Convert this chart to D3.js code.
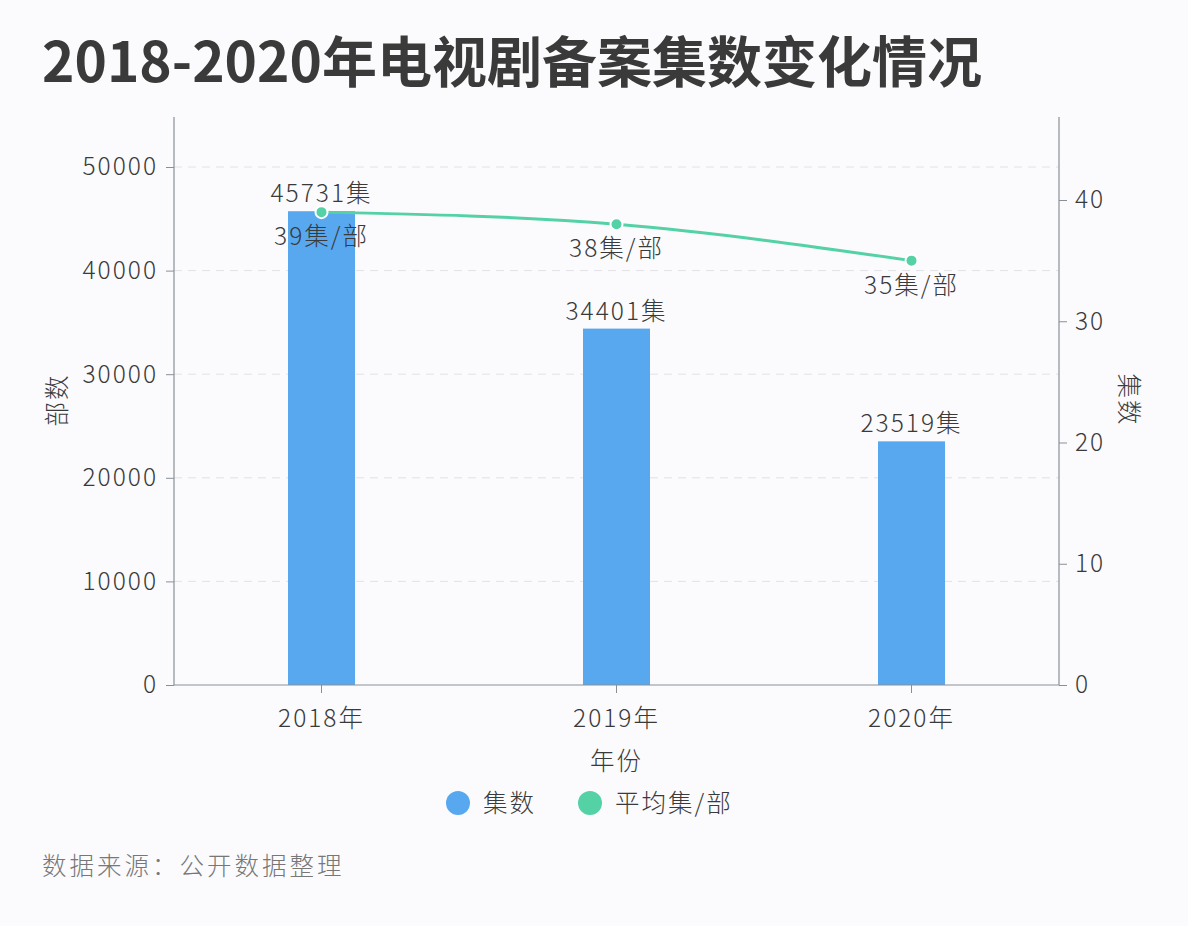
<!DOCTYPE html>
<html><head><meta charset="utf-8">
<script src="https://cdn.jsdelivr.net/npm/d3@7"></script>
<style>
body{margin:0;background:#fbfbfd;}
svg{display:block;font-family:"Noto Sans CJK SC","Noto Sans",sans-serif;}
</style></head>
<body><svg id="c" width="1188" height="926"></svg>
<script>
const years = ["2018年","2019年","2020年"];
const episodes = [45731, 34401, 23519];
const avgEpisodes = [39, 38, 35];
const leftTicks = [0,10000,20000,30000,40000,50000];
const rightTicks = [0,10,20,30,40];
const seriesNames = ["集数","平均集/部"];
const colors = ["#58a8ef","#55d1a6"];

const FS = 24.5, LS = "2px", TXT = "#3a3a3a";
const svg = d3.select("#c");
svg.append("rect").attr("width",1188).attr("height",926).attr("fill","#fbfbfd");

const L=174, R=1059, T=117, B=685;
const x = d3.scaleBand().domain(years).range([L,R]).padding(0);
const yL = d3.scaleLinear().domain([0,50000]).range([B,167]);
const yR = d3.scaleLinear().domain([0,40]).range([B,200]);

svg.append("text").attr("x",42).attr("y",82).attr("font-size",55).attr("font-weight",700)
  .attr("fill","#3a3a3a").text("2018-2020年电视剧备案集数变化情况");

// grid
svg.append("g").selectAll("line").data(leftTicks.slice(1)).join("line")
  .attr("x1",L).attr("x2",R).attr("y1",d=>yL(d)).attr("y2",d=>yL(d))
  .attr("stroke","#e2e2e6").attr("stroke-width",1).attr("stroke-dasharray","8,6");

// bars
const bw = 67;
svg.append("g").selectAll("rect").data(episodes).join("rect")
  .attr("x",(d,i)=>x(years[i])+x.bandwidth()/2-bw/2).attr("width",bw)
  .attr("y",d=>yL(d)).attr("height",d=>B-yL(d)).attr("fill",colors[0]);

// axes
const axL = d3.axisLeft(yL).tickValues(leftTicks).tickFormat(d3.format("d")).tickSize(8).tickPadding(8);
const gL = svg.append("g").attr("transform",`translate(${L},0)`).call(axL);
const axR = d3.axisRight(yR).tickValues(rightTicks).tickFormat(d3.format("d")).tickSize(8).tickPadding(8);
const gR = svg.append("g").attr("transform",`translate(${R},0)`).call(axR);
const axB = d3.axisBottom(x).tickSize(8).tickPadding(12);
const gB = svg.append("g").attr("transform",`translate(0,${B})`).call(axB);
[gL,gR,gB].forEach(g=>{
  g.select(".domain").remove();
  g.selectAll(".tick line").attr("stroke","#8a8f96");
  g.selectAll(".tick text").attr("fill",TXT).attr("font-size",FS).attr("letter-spacing",LS)
   .attr("font-weight",300)
   .attr("font-family","'Noto Sans CJK SC','Noto Sans',sans-serif");
});
gB.selectAll(".tick text").attr("dy","0.9em");
svg.append("line").attr("x1",L).attr("x2",L).attr("y1",T).attr("y2",B).attr("stroke","#8a8f96").attr("stroke-width",1.2);
svg.append("line").attr("x1",R).attr("x2",R).attr("y1",T).attr("y2",B).attr("stroke","#8a8f96").attr("stroke-width",1.2);
svg.append("line").attr("x1",L).attr("x2",R).attr("y1",B).attr("y2",B).attr("stroke","#8a8f96").attr("stroke-width",1.2);

function txt(sel){ return sel.attr("font-size",FS).attr("fill",TXT).attr("letter-spacing",LS).attr("font-weight",300); }
// axis titles
txt(svg.append("text").attr("transform",`translate(66,400) rotate(-90)`).attr("text-anchor","middle")).text("部数");
txt(svg.append("text").attr("transform",`translate(1120,400) rotate(90)`).attr("text-anchor","middle")).text("集数");
txt(svg.append("text").attr("x",(L+R)/2).attr("y",770).attr("text-anchor","middle")).text("年份");

// line
const cx = i => x(years[i])+x.bandwidth()/2;
const line = d3.line().x((d,i)=>cx(i)).y(d=>yR(d)).curve(d3.curveMonotoneX);
svg.append("path").datum(avgEpisodes).attr("d",line).attr("fill","none")
  .attr("stroke",colors[1]).attr("stroke-width",3);
svg.append("g").selectAll("circle").data(avgEpisodes).join("circle")
  .attr("cx",(d,i)=>cx(i)).attr("cy",d=>yR(d)).attr("r",6)
  .attr("fill",colors[1]).attr("stroke","#fff").attr("stroke-width",2);

// labels
txt(svg.append("g").selectAll("text").data(episodes).join("text")
  .attr("x",(d,i)=>cx(i)).attr("y",d=>yL(d)-9).attr("text-anchor","middle")).text(d=>d+"集");
txt(svg.append("g").selectAll("text").data(avgEpisodes).join("text")
  .attr("x",(d,i)=>cx(i)).attr("y",d=>yR(d)+33).attr("text-anchor","middle")).text(d=>d+"集/部");

// legend
const lg = svg.append("g");
const legX = [458, 590];
seriesNames.forEach((n,i)=>{
  lg.append("circle").attr("cx",legX[i]).attr("cy",803).attr("r",12).attr("fill",colors[i]);
  txt(lg.append("text").attr("x",legX[i]+25).attr("y",812)).text(n);
});

txt(svg.append("text").attr("x",42).attr("y",875)).attr("fill","#777").attr("letter-spacing","3px").text("数据来源：公开数据整理");
</script></body></html>
